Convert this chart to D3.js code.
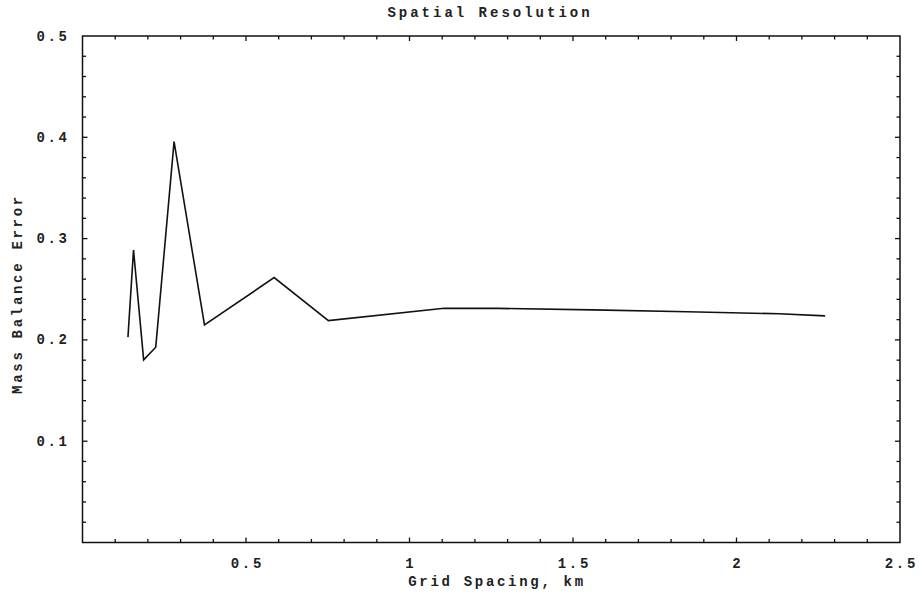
<!DOCTYPE html>
<html>
<head>
<meta charset="utf-8">
<script src="https://cdn.jsdelivr.net/npm/d3@7"></script>
<style>
  html, body { margin: 0; padding: 0; background: #fff; }
  text { font-family: "Liberation Mono", "DejaVu Sans Mono", monospace; font-weight: bold; fill: #222; }
</style>
</head>
<body>
<svg id="chart" width="919" height="594"></svg>
<script>
const chartTitle = "Spatial Resolution";
const xLabel = "Grid Spacing, km";
const yLabel = "Mass Balance Error";

const gridSpacing = [0.139, 0.156, 0.187, 0.224, 0.280, 0.373, 0.586, 0.752, 1.106, 1.270, 1.560, 1.850, 2.130, 2.271];
const massBalanceError = [0.2027, 0.2888, 0.1803, 0.1928, 0.3958, 0.2148, 0.2615, 0.2190, 0.2313, 0.2311, 0.2296, 0.2278, 0.2258, 0.2237];

const xTickValues = [0.5, 1, 1.5, 2, 2.5];
const xTickLabels = ["0.5", "1", "1.5", "2", "2.5"];
const yTickValues = [0.1, 0.2, 0.3, 0.4, 0.5];
const yTickLabels = ["0.1", "0.2", "0.3", "0.4", "0.5"];

const svg = d3.select("#chart");
const plotLeft = 82.5, plotRight = 900, plotTop = 36, plotBottom = 542.5;
const fs = 14, ls = 2.7;

const x = d3.scaleLinear().domain([0, 2.5]).range([plotLeft, plotRight]);
const y = d3.scaleLinear().domain([0, 0.5]).range([plotBottom, plotTop]);

const xMinor = d3.range(1, 25).map(d => d / 10);
const yMinor = d3.range(1, 25).map(d => d / 50);

// frame
svg.append("rect")
  .attr("x", plotLeft).attr("y", plotTop)
  .attr("width", plotRight - plotLeft).attr("height", plotBottom - plotTop)
  .attr("fill", "none").attr("stroke", "#111").attr("stroke-width", 1.5);

const isMajorX = d => Math.abs(d * 2 - Math.round(d * 2)) < 1e-6;
const isMajorY = d => Math.abs(d * 10 - Math.round(d * 10)) < 1e-6;

const tickG = svg.append("g").attr("stroke", "#111").attr("stroke-width", 1.3);
xMinor.forEach(d => {
  const len = isMajorX(d) ? 5 : 3.5;
  tickG.append("line").attr("x1", x(d)).attr("x2", x(d)).attr("y1", plotBottom).attr("y2", plotBottom - len);
  tickG.append("line").attr("x1", x(d)).attr("x2", x(d)).attr("y1", plotTop).attr("y2", plotTop + len);
});
yMinor.forEach(d => {
  const len = isMajorY(d) ? 5 : 3.5;
  tickG.append("line").attr("x1", plotLeft).attr("x2", plotLeft + len).attr("y1", y(d)).attr("y2", y(d));
  tickG.append("line").attr("x1", plotRight).attr("x2", plotRight - len).attr("y1", y(d)).attr("y2", y(d));
});

// tick labels
svg.append("g").selectAll("text").data(xTickValues).join("text")
  .attr("x", d => x(d) + ls / 2).attr("y", 568)
  .attr("text-anchor", "middle")
  .attr("font-size", fs).attr("letter-spacing", ls)
  .text((d, i) => xTickLabels[i]);

svg.append("g").selectAll("text").data(yTickValues).join("text")
  .attr("x", 67 + ls).attr("y", d => y(d) + 4.5)
  .attr("text-anchor", "end")
  .attr("font-size", fs).attr("letter-spacing", ls)
  .text((d, i) => yTickLabels[i]);

// title and axis labels
svg.append("text").attr("x", 490).attr("y", 17)
  .attr("text-anchor", "middle").attr("font-size", fs).attr("letter-spacing", ls + 0.3)
  .text(chartTitle);

svg.append("text").attr("x", 497).attr("y", 586)
  .attr("text-anchor", "middle").attr("font-size", fs).attr("letter-spacing", ls)
  .text(xLabel);

svg.append("text")
  .attr("transform", "translate(22,294) rotate(-90)")
  .attr("text-anchor", "middle").attr("font-size", fs).attr("letter-spacing", ls)
  .text(yLabel);

// line
const data = gridSpacing.map((g, i) => [g, massBalanceError[i]]);
svg.append("path")
  .datum(data)
  .attr("fill", "none").attr("stroke", "#111").attr("stroke-width", 1.6)
  .attr("stroke-linejoin", "miter")
  .attr("d", d3.line().x(d => x(d[0])).y(d => y(d[1])));
</script>
</body>
</html>
